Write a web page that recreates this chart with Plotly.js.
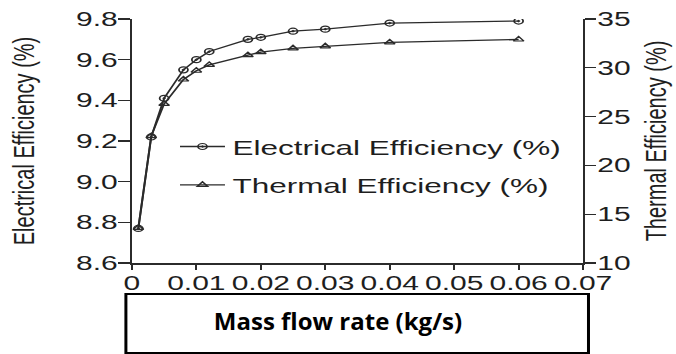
<!DOCTYPE html>
<html>
<head>
<meta charset="utf-8">
<script src="https://cdn.plot.ly/plotly-3.0.1.min.js"></script>
<style>
  html, body { margin: 0; padding: 0; background: #fff; overflow: hidden; }
  #wrap { width: 451px; height: 354px; transform: scaleX(1.4989); transform-origin: 0 0; }
  #chart { width: 451px; height: 354px; }
</style>
</head>
<body>
<div id="wrap"><div id="chart"></div></div>
<script>
// Data
const massFlow = [0.001, 0.003, 0.005, 0.008, 0.010, 0.012, 0.018, 0.020, 0.025, 0.030, 0.040, 0.060];
const electricalEff = [8.77, 9.22, 9.41, 9.55, 9.60, 9.64, 9.70, 9.71, 9.74, 9.75, 9.78, 9.79];
const thermalEff = [13.6, 23.0, 26.3, 28.8, 29.7, 30.3, 31.3, 31.6, 32.0, 32.2, 32.6, 32.9];
const seriesNames = ['Electrical Efficiency (%)', 'Thermal Efficiency (%)'];
const xTitle = 'Mass flow rate (kg/s)';
const yTitle = 'Electrical Efficiency (%)';
const y2Title = 'Thermal Efficiency (%)';

const ink = '#2b2b2b';
const textInk = '#1e1e1e';
const baseFont = 'Liberation Sans, Arial, sans-serif';

const traces = [
  {
    x: massFlow, y: electricalEff, name: seriesNames[0], type: 'scatter', mode: 'lines+markers',
    line: { color: ink, width: 1.3 },
    marker: { symbol: 'circle-open-dot', size: 6, color: ink, line: { color: ink, width: 1.2 } },
    legendgroup: 'a'
  },
  {
    x: massFlow, y: thermalEff, name: seriesNames[1], type: 'scatter', mode: 'lines+markers', yaxis: 'y2',
    line: { color: ink, width: 1.3 },
    marker: { symbol: 'triangle-up-open', size: 6, color: ink, line: { color: ink, width: 1.2 } },
    legendgroup: 'b'
  }
];

const layout = {
  width: 451, height: 354,
  margin: { l: 88, r: 62, t: 19, b: 91 },
  paper_bgcolor: '#ffffff', plot_bgcolor: '#ffffff',
  font: { family: baseFont, color: textInk, size: 20 },
  showlegend: true,
  legend: {
    x: 0.09, y: 0.56, xanchor: 'left', yanchor: 'top',
    bgcolor: 'rgba(0,0,0,0)', borderwidth: 0,
    font: { family: baseFont, size: 21, color: textInk },
    tracegroupgap: 8
  },
  xaxis: {
    range: [0, 0.07], dtick: 0.01, tick0: 0,
    showgrid: false, zeroline: false,
    showline: true, linecolor: ink, linewidth: 1.5,
    ticks: 'outside', ticklen: 5, tickwidth: 1.3, tickcolor: ink, ticklabelstandoff: -3,
    tickfont: { family: baseFont, size: 20, color: textInk },
    title: {
      text: '<b>' + xTitle + '</b>', standoff: 20,
      font: { family: 'Open Sans, Liberation Sans, Arial, sans-serif', size: 24, color: '#000' }
    }
  },
  yaxis: {
    range: [8.6, 9.8], dtick: 0.2, tick0: 8.6, tickformat: '.1f',
    showgrid: false, zeroline: false,
    showline: true, linecolor: ink, linewidth: 1.5,
    ticks: 'outside', ticklen: 8, tickwidth: 1.3, tickcolor: ink, ticklabelstandoff: -4,
    tickfont: { family: baseFont, size: 20, color: textInk },
    title: { text: yTitle, font: { family: baseFont, size: 20, color: textInk }, standoff: 22 }
  },
  yaxis2: {
    range: [10, 35], dtick: 5, tick0: 10,
    overlaying: 'y', side: 'right',
    showgrid: false, zeroline: false,
    showline: true, linecolor: ink, linewidth: 1.5,
    ticks: 'outside', ticklen: 7, tickwidth: 1.3, tickcolor: ink, ticklabelstandoff: -3,
    tickfont: { family: baseFont, size: 20, color: textInk },
    title: { text: y2Title, font: { family: baseFont, size: 20, color: textInk }, standoff: 10 }
  },
  shapes: [
    {
      type: 'rect', xref: 'paper', yref: 'paper',
      x0: -0.0133, x1: 1.012, y0: -0.369, y1: -0.127,
      line: { color: '#000', width: 2 }, fillcolor: 'rgba(0,0,0,0)'
    }
  ]
};

Plotly.newPlot('chart', traces, layout, { staticPlot: true, displayModeBar: false }).then(function (gd) {
  // The boxed x-axis title in the reference is not horizontally stretched like the rest of the figure
  const t = gd.querySelector('.xtitle');
  if (t) {
    t.style.transformBox = 'fill-box';
    t.style.transformOrigin = 'center';
    t.style.transform = 'translate(-13px, -1px) scaleX(0.6672)';
  }
});
</script>
</body>
</html>
